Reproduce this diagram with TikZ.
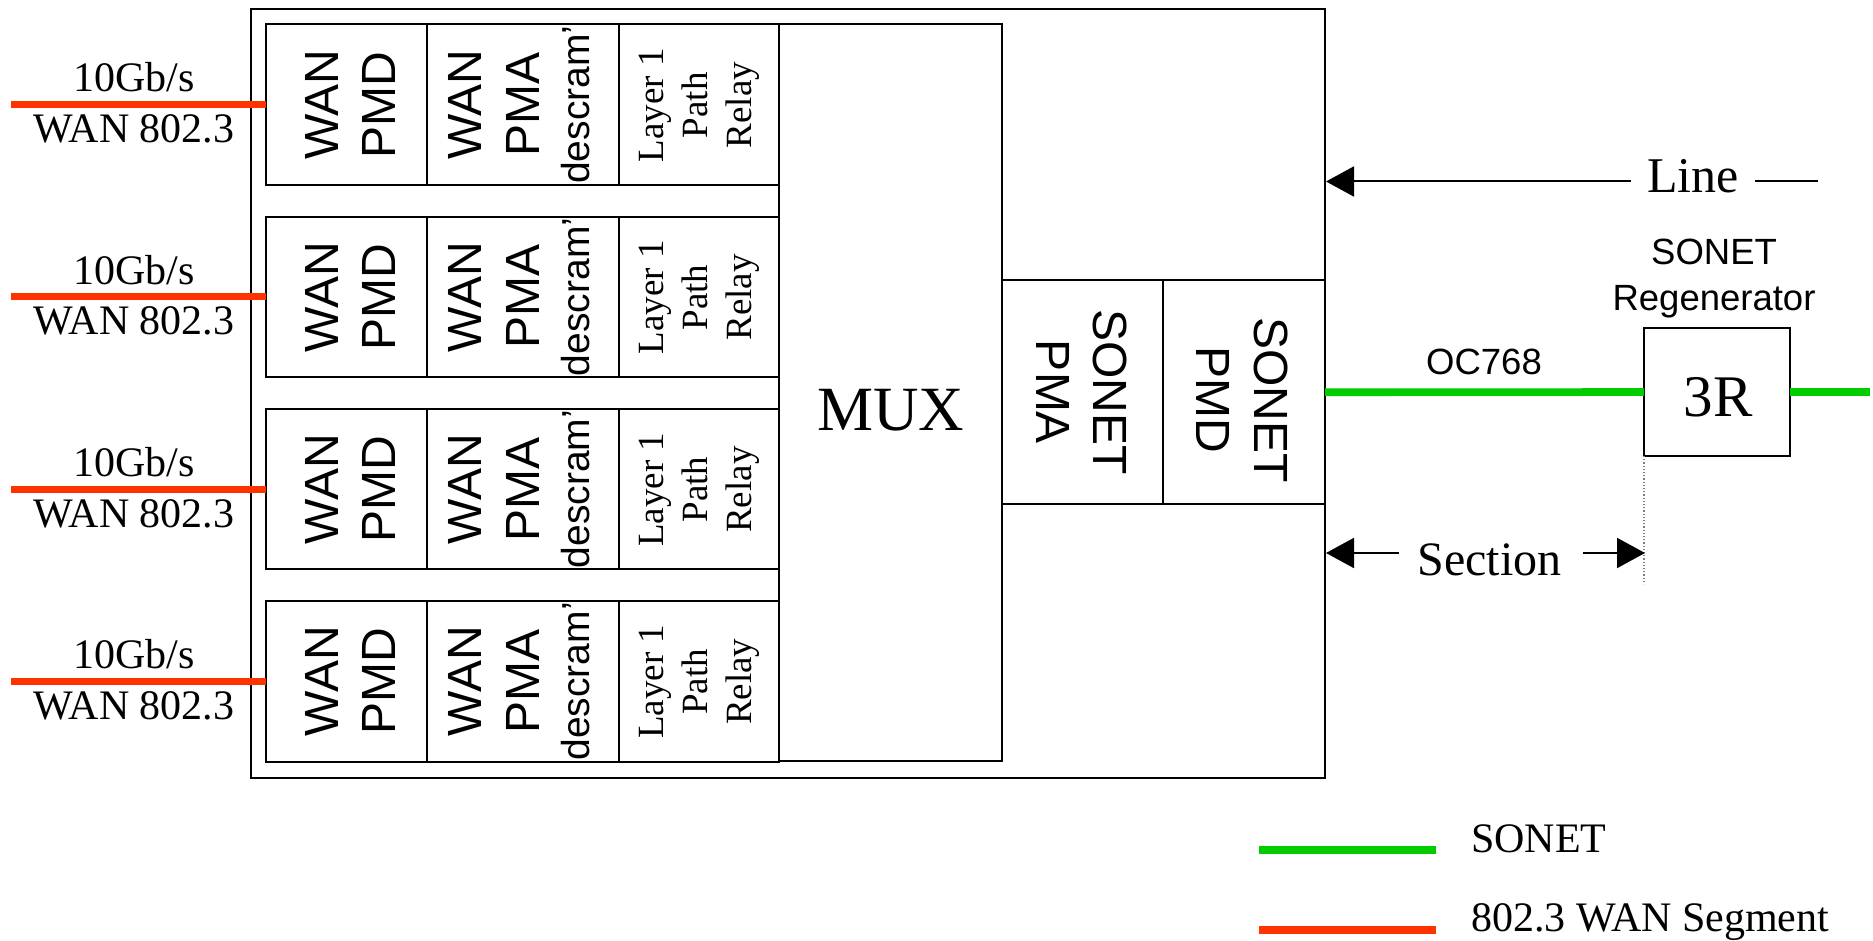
\documentclass[tikz,border=0pt]{standalone}
\usepackage{fontspec}
\setmainfont{Liberation Serif}
\setsansfont{Liberation Sans}
\usetikzlibrary{arrows.meta}
\definecolor{sonetgreen}{RGB}{0,204,0}
\definecolor{wanred}{RGB}{255,51,0}
\newcommand\fsz[2]{\fontsize{#1}{#2}\selectfont}
\begin{document}
\begin{tikzpicture}[x=1pt,y=-1pt,
  blk/.style={draw, line width=2pt, inner sep=0pt, outer sep=0pt},
  lbl/.style={inner sep=0pt, outer sep=0pt},
  biglbl/.style={lbl, font=\sffamily\fsz{48}{57.5}, align=center},
  relaylbl/.style={lbl, font=\fsz{37}{44}, align=center, rotate=90},
  serif42/.style={lbl, font=\fsz{42}{50}},
  greenline/.style={draw=sonetgreen, line width=7.6pt},
  redline/.style={draw=wanred, line width=7pt},
  arr/.style={line width=2pt, -{Triangle[length=28pt,width=30pt]}},
  plain/.style={line width=2pt}
]
\useasboundingbox (0,0) rectangle (1873,941);

% outer box
\node[blk, minimum width=1074pt, minimum height=768pt] (outer) at (788,393.5) {};

% four WAN rows
\foreach \i/\yc in {1/104.7, 2/296.9, 3/489.1, 4/681.3}{
  \node[blk, minimum width=161pt, minimum height=160.5pt] (pmd\i) at (346.5,\yc) {};
  \node[blk, minimum width=192pt, minimum height=160.5pt] (pma\i) at (523,\yc) {};
  \node[blk, minimum width=160pt, minimum height=160.5pt] (relay\i) at (699,\yc) {};
  \node[biglbl, rotate=90] (pmdt\i) at (350.5,\yc) {WAN\\PMD};
  \node[biglbl, rotate=90] (pmat\i) at (519.5,\yc) {WAN\\PMA\\[-7pt]{\fsz{39}{50}descram’}};
  \node[relaylbl] (relayt\i) at (699.4,\yc+0.5) {Layer 1\\Path\\Relay};
  \coordinate (in\i) at (11,\yc);
  \draw[redline] (in\i) -- (pmd\i.west);
  \node[serif42, anchor=base] (rate\i) at (134,\yc-12.7) {10Gb/s};
  \node[serif42, anchor=base] (wan\i) at (134,\yc+38) {WAN 802.3};
}

% MUX
\node[blk, minimum width=223pt, minimum height=736.5pt] (mux) at (890.5,392.75) {};
\node[lbl, font=\fsz{63}{70}, anchor=base] (muxt) at (890.5,430.5) {MUX};

% SONET PMA / PMD
\node[blk, minimum width=161pt, minimum height=223.5pt] (spma) at (1082.5,392.25) {};
\node[blk, minimum width=162pt, minimum height=223.5pt] (spmd) at (1244,392.25) {};
\node[biglbl, rotate=-90] (spmat) at (1081.5,392) {SONET\\PMA};
\node[biglbl, rotate=-90] (spmdt) at (1242.4,400) {SONET\\PMD};

% regenerator
\node[blk, minimum width=146pt, minimum height=128pt] (r3) at (1717,392) {};
\node[lbl, font=\fsz{59}{66}, anchor=base] (r3t) at (1718,416) {3R};
\node[lbl, font=\sffamily\fsz{36.5}{44}, anchor=base] (regt1) at (1714,265) {SONET};
\node[lbl, font=\sffamily\fsz{36.5}{44}, anchor=base] (regt2) at (1714,310) {Regenerator};

% OC768 link
\draw[greenline] (spmd.east) -- (r3.west);
\coordinate (gend) at (1870,392);
\draw[greenline] (r3.east) -- (gend);
\node[lbl, font=\sffamily\fsz{36.5}{44}, anchor=base] (oct) at (1484,374) {OC768};

% dotted marker
\coordinate (dotend) at (1644,584);
\draw[line width=1.2pt, dotted, gray] (r3.south west) -- (dotend);

% Line arrow
\node[lbl, font=\fsz{50}{56}, anchor=base] (linet) at (1693,193) {Line};
\coordinate (lineA) at (1631,181.5);
\coordinate (lineB) at (1326,181.5);
\coordinate (lineC) at (1755,181.5);
\coordinate (lineD) at (1818,181.5);
\draw[arr] (lineA) -- (lineB);
\draw[plain] (lineC) -- (lineD);

% Section arrows
\node[lbl, font=\fsz{48}{56}, anchor=base] (sect) at (1489.5,575.6) {Section};
\coordinate (secA) at (1399,553);
\coordinate (secB) at (1326,553);
\coordinate (secC) at (1583,553);
\coordinate (secD) at (1645,553);
\draw[arr] (secA) -- (secB);
\draw[arr] (secC) -- (secD);

% legend
\coordinate (lg1) at (1259,850);
\coordinate (lg2) at (1436,850);
\coordinate (lg3) at (1259,930);
\coordinate (lg4) at (1436,930);
\draw[greenline, line width=7.7pt] (lg1) -- (lg2);
\draw[redline, line width=7.7pt] (lg3) -- (lg4);
\node[serif42, anchor=base west] (lgt1) at (1471,852.7) {SONET};
\node[serif42, anchor=base west] (lgt2) at (1471,931) {802.3 WAN Segment};
\end{tikzpicture}
\end{document}
